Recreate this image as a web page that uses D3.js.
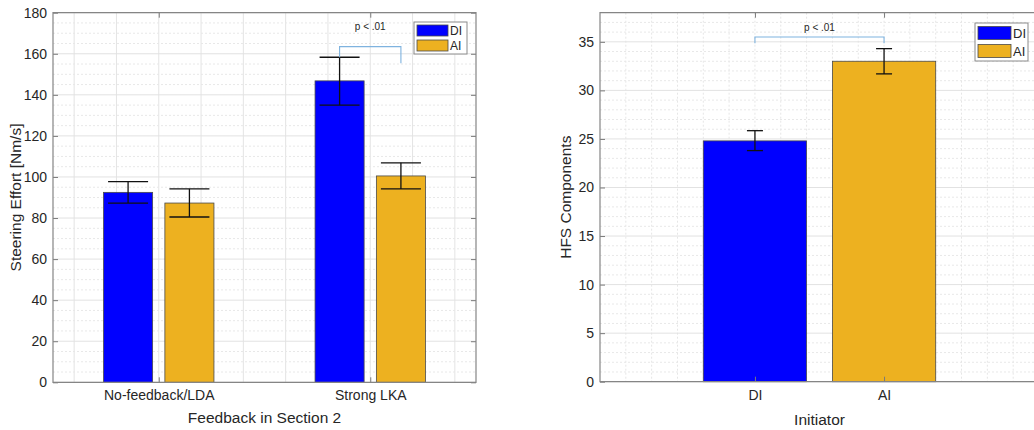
<!DOCTYPE html>
<html>
<head>
<meta charset="utf-8">
<script src="https://cdn.jsdelivr.net/npm/d3@7"></script>
<style>
  body { margin: 0; background: #fff; }
  svg { display: block; font-family: "Liberation Sans", Arial, sans-serif; }
  .tick text { fill: #262626; }
</style>
</head>
<body>
<div id="chart"></div>
<script>
// data
var seriesNames = ["DI", "AI"]
var seriesColors = ["#0000ff", "#edb120"]

var effortCats = ["No-feedback/LDA", "Strong LKA"]
var effortDI = [92.5, 146.8]
var effortDILow = [87.3, 135.0]
var effortDIHigh = [97.7, 158.3]
var effortAI = [87.3, 100.5]
var effortAILow = [80.5, 94.2]
var effortAIHigh = [94.2, 106.9]
var effortTicks = [0, 20, 40, 60, 80, 100, 120, 140, 160, 180]

var hfsCats = ["DI", "AI"]
var hfsMean = [24.8, 33.0]
var hfsLow = [23.8, 31.7]
var hfsHigh = [25.85, 34.3]
var hfsTicks = [0, 5, 10, 15, 20, 25, 30, 35]

var svg = d3.select("#chart").append("svg")
  .attr("width", 1034)
  .attr("height", 430)

function drawPanel(cfg) { //{{{
  var x = d3.scaleLinear().domain(cfg.xDomain).range([cfg.left, cfg.right])
  var y = d3.scaleLinear().domain(cfg.yDomain).range([cfg.bottom, cfg.top])
  var g = svg.append("g")

  // grid
  var grid = g.append("g")
  cfg.xGrid.forEach(v => {
    grid.append("line")
      .attr("x1", x(v)).attr("x2", x(v))
      .attr("y1", cfg.top).attr("y2", cfg.bottom)
      .attr("stroke", cfg.xGridSolid ? "#e4e4e4" : "#e6e6e6")
      .attr("stroke-dasharray", cfg.xGridSolid ? null : "2,2")
  })
  cfg.yMinor.forEach(v => {
    grid.append("line")
      .attr("x1", cfg.left).attr("x2", cfg.right)
      .attr("y1", y(v)).attr("y2", y(v))
      .attr("stroke", "#e8e8e8")
      .attr("stroke-dasharray", "2,2")
  })
  cfg.yTicks.forEach(v => {
    grid.append("line")
      .attr("x1", cfg.left).attr("x2", cfg.right)
      .attr("y1", y(v)).attr("y2", y(v))
      .attr("stroke", "#e2e2e2")
  })

  // bars
  cfg.bars.forEach(b => {
    g.append("rect")
      .attr("x", x(b.x - cfg.barW / 2))
      .attr("width", x(b.x + cfg.barW / 2) - x(b.x - cfg.barW / 2))
      .attr("y", y(b.v))
      .attr("height", y(0) - y(b.v))
      .attr("fill", b.color)
      .attr("stroke", "#4a4a4a")
      .attr("stroke-width", 0.8)
  })

  // error bars
  cfg.bars.forEach(b => {
    var cx = x(b.x)
    g.append("line").attr("x1", cx).attr("x2", cx)
      .attr("y1", y(b.lo)).attr("y2", y(b.hi))
      .attr("stroke", "#111").attr("stroke-width", 1.3)
    ;[b.lo, b.hi].forEach(e => {
      g.append("line")
        .attr("x1", cx - cfg.cap).attr("x2", cx + cfg.cap)
        .attr("y1", y(e)).attr("y2", y(e))
        .attr("stroke", "#111").attr("stroke-width", 1.3)
    })
  })

  // significance bracket
  var br = cfg.bracket
  g.append("path")
    .attr("d", d3.line()([
      [x(br.x1), y(br.y1)], [x(br.x1), y(br.top)],
      [x(br.x2), y(br.top)], [x(br.x2), y(br.y2)]
    ]))
    .attr("fill", "none")
    .attr("stroke", "#7fb3df")
    .attr("stroke-width", 1.1)
  g.append("text")
    .attr("x", x(br.tx))
    .attr("y", y(br.ty))
    .attr("text-anchor", "middle")
    .attr("font-size", 10)
    .attr("fill", "#262626")
    .text("p < .01")

  // axes, ticks inside like matlab
  g.append("g")
    .attr("transform", "translate(" + cfg.left + ",0)")
    .call(d3.axisLeft(y).tickValues(cfg.yTicks).tickSize(-5).tickPadding(6))
    .call(a => a.select(".domain").remove())
    .call(a => a.selectAll(".tick line").attr("stroke", "#7a7a7a"))
    .call(a => a.selectAll("text").attr("font-size", 14))
  if (cfg.rightTicks) {
    g.append("g")
      .attr("transform", "translate(" + cfg.right + ",0)")
      .call(d3.axisRight(y).tickValues(cfg.yTicks).tickSize(-5).tickFormat(""))
      .call(a => a.select(".domain").remove())
      .call(a => a.selectAll(".tick line").attr("stroke", "#7a7a7a"))
  }
  g.append("g")
    .attr("transform", "translate(0," + cfg.bottom + ")")
    .call(d3.axisBottom(x).tickValues(cfg.cats.map((c, i) => i + 1))
      .tickFormat((d, i) => cfg.cats[i]).tickSize(-5).tickPadding(8))
    .call(a => a.select(".domain").remove())
    .call(a => a.selectAll(".tick line").attr("stroke", "#7a7a7a"))
    .call(a => a.selectAll("text").attr("font-size", 14))
  g.append("g")
    .attr("transform", "translate(0," + cfg.top + ")")
    .call(d3.axisTop(x).tickValues(cfg.cats.map((c, i) => i + 1)).tickSize(-5).tickFormat(""))
    .call(a => a.select(".domain").remove())
    .call(a => a.selectAll(".tick line").attr("stroke", "#7a7a7a"))

  // box
  g.append("path")
    .attr("d", "M" + cfg.left + "," + cfg.bottom + "V" + cfg.top + "H" + cfg.right + "V" + cfg.bottom + "Z")
    .attr("fill", "none")
    .attr("stroke", "#858585")
    .attr("stroke-width", 1.2)

  // axis labels
  g.append("text")
    .attr("x", (cfg.left + Math.min(cfg.right, cfg.labelRight)) / 2)
    .attr("y", cfg.xLabelY)
    .attr("text-anchor", "middle")
    .attr("font-size", 15.5)
    .attr("fill", "#262626")
    .text(cfg.xLabel)
  g.append("text")
    .attr("transform", "translate(" + cfg.yLabelX + "," + (cfg.top + cfg.bottom) / 2 + ") rotate(-90)")
    .attr("text-anchor", "middle")
    .attr("dominant-baseline", "central")
    .attr("font-size", 15.5)
    .attr("fill", "#262626")
    .text(cfg.yLabel)

  // legend
  var lg = cfg.legend
  var leg = g.append("g").attr("transform", "translate(" + lg.x + "," + lg.y + ")")
  leg.append("rect")
    .attr("width", lg.w).attr("height", lg.h)
    .attr("fill", "#fff").attr("stroke", "#8a8a8a").attr("stroke-width", 1)
  seriesNames.forEach((s, i) => {
    var sy = lg.pad + i * lg.step
    leg.append("rect")
      .attr("x", 3).attr("y", sy)
      .attr("width", lg.sw).attr("height", lg.sh)
      .attr("fill", seriesColors[i]).attr("stroke", "#4a4a4a").attr("stroke-width", 0.8)
    leg.append("text")
      .attr("x", lg.sw + 5).attr("y", sy + lg.sh / 2)
      .attr("dominant-baseline", "central")
      .attr("font-size", lg.fs)
      .attr("fill", "#262626")
      .text(s)
  })
} //}}}

// left panel: steering effort
var effBars = []
effortCats.forEach((c, i) => {
  effBars.push({ x: i + 1 - 0.145, v: effortDI[i], lo: effortDILow[i], hi: effortDIHigh[i], color: seriesColors[0] })
  effBars.push({ x: i + 1 + 0.145, v: effortAI[i], lo: effortAILow[i], hi: effortAIHigh[i], color: seriesColors[1] })
})
drawPanel({
  left: 53, right: 476, top: 12.7, bottom: 382.3, labelRight: 476,
  xDomain: [0.5, 2.5], yDomain: [0, 180],
  xGrid: d3.range(0.6, 2.45, 0.2), xGridSolid: true,
  yTicks: effortTicks, yMinor: d3.range(5, 180, 5).filter(v => v % 20),
  cats: effortCats, bars: effBars, barW: 0.232, cap: 20,
  bracket: { x1: 2 - 0.145, y1: 158.3, x2: 2 + 0.145, y2: 155.4, top: 163.5, tx: 2, ty: 171.5 },
  rightTicks: true,
  xLabel: "Feedback in Section 2", xLabelY: 423,
  yLabel: "Steering Effort [Nm/s]", yLabelX: 15,
  legend: { x: 414, y: 22, w: 53, h: 32, pad: 3, step: 15, sw: 31, sh: 11, fs: 12 }
})

// right panel: hfs components
var hfsBars = hfsCats.map((c, i) => ({ x: i + 1, v: hfsMean[i], lo: hfsLow[i], hi: hfsHigh[i], color: seriesColors[i] }))
drawPanel({
  left: 600, right: 1039, top: 12.7, bottom: 381.7, labelRight: 1039,
  xDomain: [-0.2, 3.2], yDomain: [0, 38],
  xGrid: d3.range(0, 3.05, 0.2), xGridSolid: false,
  yTicks: hfsTicks, yMinor: d3.range(1, 38, 1).filter(v => v % 5),
  cats: hfsCats, bars: hfsBars, barW: 0.8, cap: 8,
  bracket: { x1: 1, y1: 34.85, x2: 2, y2: 34.85, top: 35.5, tx: 1.5, ty: 36.1 },
  rightTicks: false,
  xLabel: "Initiator", xLabelY: 425,
  yLabel: "HFS Components", yLabelX: 565,
  legend: { x: 975, y: 23, w: 53, h: 38, pad: 3.5, step: 18, sw: 33, sh: 13, fs: 13 }
})
</script>
</body>
</html>
